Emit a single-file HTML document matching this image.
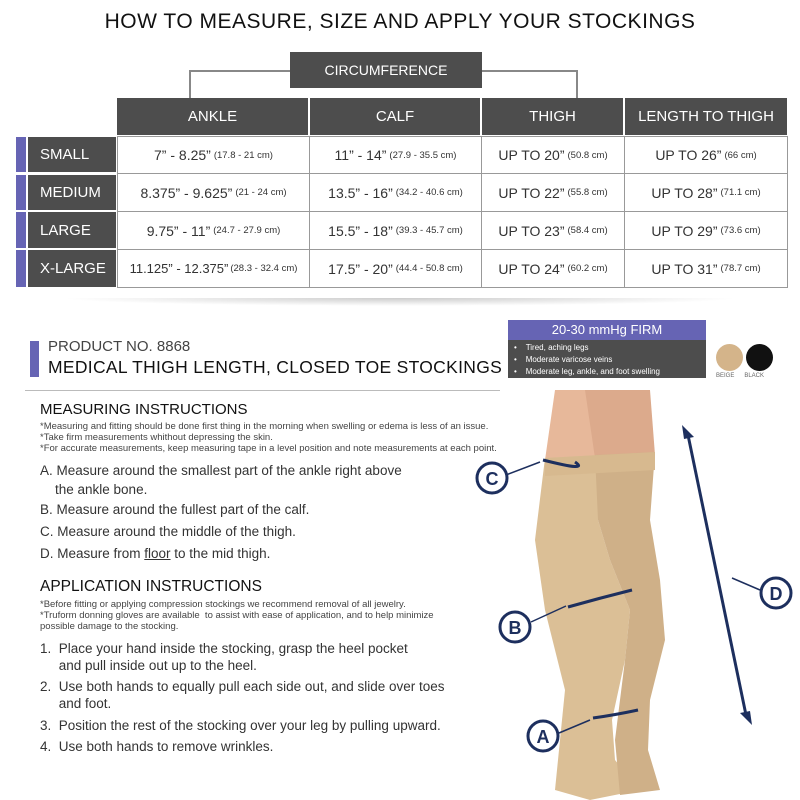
<!DOCTYPE html>
<html><head><style>
body{margin:0;width:800px;height:800px;background:#fff;font-family:"Liberation Sans",sans-serif;position:relative;overflow:hidden;color:#333}
.a{position:absolute}
.h{background:#4d4d4d;color:#fff;display:flex;align-items:center;justify-content:center;font-size:15px}
.c{border:1px solid #999;display:flex;align-items:center;justify-content:center;font-size:14px;color:#333;background:#fff;box-sizing:border-box;white-space:nowrap}
.c small{font-size:9.5px;margin-left:3px}
.l{background:#4d4d4d;color:#fff;display:flex;align-items:center;padding-left:12px;box-sizing:border-box;font-size:15px}
.p{background:#6664b4}
.t{font-size:13.5px;color:#333;line-height:21px}
.s{font-size:9.5px;color:#444;line-height:11px}
</style></head><body>
<div class="a" style="top:10px;left:0;width:800px;text-align:center;font-size:21px;letter-spacing:.5px;color:#111">HOW TO MEASURE, SIZE AND APPLY YOUR STOCKINGS</div>
<div class="a" style="left:189px;top:70px;width:389px;height:28px;border:2px solid #888;border-bottom:none;box-sizing:border-box"></div>
<div class="a h" style="left:290px;top:52px;width:192px;height:36px;font-size:14px">CIRCUMFERENCE</div>
<div class="a h" style="left:117px;top:98px;width:191px;height:37px">ANKLE</div>
<div class="a h" style="left:310px;top:98px;width:170px;height:37px">CALF</div>
<div class="a h" style="left:482px;top:98px;width:141px;height:37px">THIGH</div>
<div class="a h" style="left:625px;top:98px;width:162px;height:37px">LENGTH TO THIGH</div>

<div class="a p" style="left:16px;top:137px;width:10px;height:35px"></div>
<div class="a l" style="left:28px;top:137px;width:88px;height:35px">SMALL</div>
<div class="a p" style="left:16px;top:175px;width:10px;height:35px"></div>
<div class="a l" style="left:28px;top:175px;width:88px;height:35px">MEDIUM</div>
<div class="a p" style="left:16px;top:212px;width:10px;height:36px"></div>
<div class="a l" style="left:28px;top:212px;width:88px;height:36px">LARGE</div>
<div class="a p" style="left:16px;top:250px;width:10px;height:37px"></div>
<div class="a l" style="left:28px;top:250px;width:88px;height:37px">X-LARGE</div>

<div class="a c" style="left:117px;top:136px;width:193px;height:38px">7” - 8.25”<small>(17.8 - 21 cm)</small></div>
<div class="a c" style="left:309px;top:136px;width:173px;height:38px">11” - 14”<small>(27.9 - 35.5 cm)</small></div>
<div class="a c" style="left:481px;top:136px;width:144px;height:38px">UP TO 20”<small>(50.8 cm)</small></div>
<div class="a c" style="left:624px;top:136px;width:164px;height:38px">UP TO 26”<small>(66 cm)</small></div>
<div class="a c" style="left:117px;top:173px;width:193px;height:39px">8.375” - 9.625”<small>(21 - 24 cm)</small></div>
<div class="a c" style="left:309px;top:173px;width:173px;height:39px">13.5” - 16”<small>(34.2 - 40.6 cm)</small></div>
<div class="a c" style="left:481px;top:173px;width:144px;height:39px">UP TO 22”<small>(55.8 cm)</small></div>
<div class="a c" style="left:624px;top:173px;width:164px;height:39px">UP TO 28”<small>(71.1 cm)</small></div>
<div class="a c" style="left:117px;top:211px;width:193px;height:39px">9.75” - 11”<small>(24.7 - 27.9 cm)</small></div>
<div class="a c" style="left:309px;top:211px;width:173px;height:39px">15.5” - 18”<small>(39.3 - 45.7 cm)</small></div>
<div class="a c" style="left:481px;top:211px;width:144px;height:39px">UP TO 23”<small>(58.4 cm)</small></div>
<div class="a c" style="left:624px;top:211px;width:164px;height:39px">UP TO 29”<small>(73.6 cm)</small></div>
<div class="a c" style="left:117px;top:249px;width:193px;height:39px;font-size:13px">11.125” - 12.375”<small style="margin-left:2px">(28.3 - 32.4 cm)</small></div>
<div class="a c" style="left:309px;top:249px;width:173px;height:39px">17.5” - 20”<small>(44.4 - 50.8 cm)</small></div>
<div class="a c" style="left:481px;top:249px;width:144px;height:39px">UP TO 24”<small>(60.2 cm)</small></div>
<div class="a c" style="left:624px;top:249px;width:164px;height:39px">UP TO 31”<small>(78.7 cm)</small></div>

<div class="a" style="left:60px;top:298px;width:680px;height:8px;background:radial-gradient(ellipse at center top,#ccc,rgba(255,255,255,0) 70%)"></div>

<div class="a p" style="left:30px;top:341px;width:9px;height:36px"></div>
<div class="a" style="left:48px;top:338px;font-size:15px;color:#444">PRODUCT NO. 8868</div>
<div class="a" style="left:48px;top:357px;font-size:17.5px;color:#111;letter-spacing:.3px">MEDICAL THIGH LENGTH, CLOSED TOE STOCKINGS</div>
<div class="a" style="left:508px;top:320px;width:198px;height:20px;background:#6664b4;color:#fff;font-size:13px;text-align:center;line-height:20px">20-30 mmHg FIRM</div>
<div class="a" style="left:508px;top:340px;width:198px;height:38px;background:#4d4d4d;color:#fff;font-size:8px;line-height:12px;padding-left:6px;box-sizing:border-box;padding-top:2px">•&nbsp;&nbsp;&nbsp;&nbsp;Tired, aching legs<br>•&nbsp;&nbsp;&nbsp;&nbsp;Moderate varicose veins<br>•&nbsp;&nbsp;&nbsp;&nbsp;Moderate leg, ankle, and foot swelling</div>
<div class="a" style="left:716px;top:344px;width:27px;height:27px;border-radius:50%;background:#d4b48a"></div>
<div class="a" style="left:746px;top:344px;width:27px;height:27px;border-radius:50%;background:#111"></div>
<div class="a" style="left:716px;top:373px;font-size:6px;color:#666">BEIGE&nbsp;&nbsp;&nbsp;&nbsp;&nbsp;&nbsp;BLACK</div>
<div class="a" style="left:25px;top:390px;width:475px;height:1px;background:#bbb"></div>

<div class="a" style="left:40px;top:401px;font-size:15px;color:#111">MEASURING INSTRUCTIONS</div>
<div class="a s" style="left:40px;top:421px">*Measuring and fitting should be done first thing in the morning when swelling or edema is less of an issue.<br>*Take firm measurements whithout depressing the skin.<br>*For accurate measurements, keep measuring tape in a level position and note measurements at each point.</div>
<div class="a t" style="left:40px;top:461px;line-height:19px">A. Measure around the smallest part of the ankle right above<br>&nbsp;&nbsp;&nbsp;&nbsp;the ankle bone.</div>
<div class="a t" style="left:40px;top:499px">B. Measure around the fullest part of the calf.</div>
<div class="a t" style="left:40px;top:521px">C. Measure around the middle of the thigh.</div>
<div class="a t" style="left:40px;top:543px">D. Measure from <u>floor</u> to the mid thigh.</div>
<div class="a" style="left:40px;top:578px;font-size:15.5px;color:#111">APPLICATION INSTRUCTIONS</div>
<div class="a s" style="left:40px;top:599px">*Before fitting or applying compression stockings we recommend removal of all jewelry.<br>*Truform donning gloves are available&nbsp; to assist with ease of application, and to help minimize<br>possible damage to the stocking.</div>
<div class="a t" style="left:40px;top:640px;line-height:17px">1.&nbsp; Place your hand inside the stocking, grasp the heel pocket<br>&nbsp;&nbsp;&nbsp;&nbsp;&nbsp;and pull inside out up to the heel.</div>
<div class="a t" style="left:40px;top:678px;line-height:17px">2.&nbsp; Use both hands to equally pull each side out, and slide over toes<br>&nbsp;&nbsp;&nbsp;&nbsp;&nbsp;and foot.</div>
<div class="a t" style="left:40px;top:715px">3.&nbsp; Position the rest of the stocking over your leg by pulling upward.</div>
<div class="a t" style="left:40px;top:736px">4.&nbsp; Use both hands to remove wrinkles.</div>

<svg class="a" style="left:0;top:0" width="800" height="800">
<path d="M555 390 L640 390 L645 455 L545 460 Z" fill="#e7b89a"/>
<path d="M585 390 L650 390 L655 455 L595 458 Z" fill="#dcaa8c"/>
<path d="M545 458 L600 455 L598 520 L610 560 L630 610 L625 660 L612 720 L615 760 L640 790 L590 800 L555 790 L560 740 L565 690 L545 610 L535 540 Z" fill="#dbbf96"/>
<path d="M595 455 L655 452 L650 520 L660 580 L665 640 L650 700 L648 750 L660 790 L620 795 L615 740 L625 660 L630 610 L610 560 L598 520 Z" fill="#cfb088"/>
<path d="M545 458 L655 452 L655 470 L545 476 Z" fill="#d7b98f"/>
<g stroke="#1d2f5e" fill="none" stroke-width="3">
<path d="M543 460 Q590 472 575 462"/>
<path d="M568 607 Q600 598 632 590"/>
<path d="M593 718 Q615 715 638 710"/>
<line x1="688" y1="435" x2="746" y2="715"/>
<line x1="506" y1="475" x2="540" y2="462" stroke-width="1.5"/>
<line x1="531" y1="622" x2="566" y2="606" stroke-width="1.5"/>
<line x1="559" y1="733" x2="590" y2="720" stroke-width="1.5"/>
<line x1="732" y1="578" x2="760" y2="590" stroke-width="1.5"/>
<circle cx="492" cy="478" r="15" fill="#fff"/>
<circle cx="515" cy="627" r="15" fill="#fff"/>
<circle cx="543" cy="736" r="15" fill="#fff"/>
<circle cx="776" cy="593" r="15" fill="#fff"/>
</g>
<polygon points="682,425 694,437 684,439" fill="#1d2f5e"/>
<polygon points="752,725 740,713 750,711" fill="#1d2f5e"/>
<g font-family="Liberation Sans" font-size="18" font-weight="bold" fill="#1d2f5e" text-anchor="middle">
<text x="492" y="485">C</text><text x="515" y="634">B</text><text x="543" y="743">A</text><text x="776" y="600">D</text></g>
</svg>
</body></html>
